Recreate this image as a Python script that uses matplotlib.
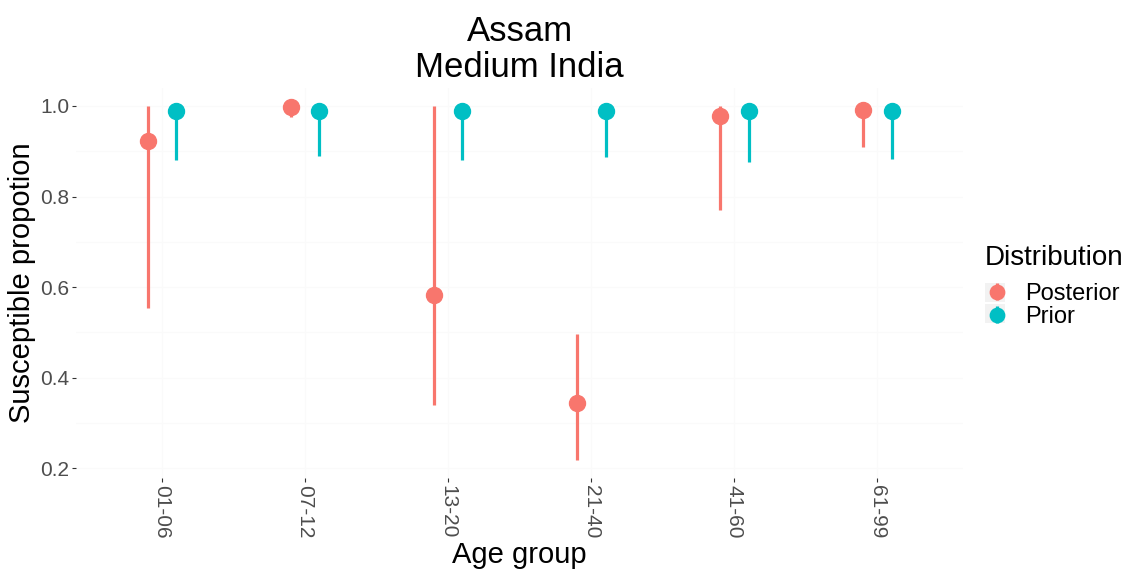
import matplotlib.pyplot as plt
import matplotlib.transforms as mtrans
import numpy as np
from matplotlib.patches import Rectangle
from matplotlib.container import ErrorbarContainer
from matplotlib.legend_handler import HandlerErrorbar

plt.rcParams['font.family'] = ['Liberation Sans', 'DejaVu Sans']

age_groups = ["01-06", "07-12", "13-20", "21-40", "41-60", "61-99"]

# posterior: median and 95% interval
post_mid = [0.923, 0.998, 0.582, 0.344, 0.978, 0.991]
post_lo = [0.555, 0.976, 0.341, 0.218, 0.771, 0.910]
post_hi = [1.000, 1.000, 1.000, 0.496, 1.000, 1.000]

# prior
prior_mid = [0.989, 0.989, 0.989, 0.989, 0.989, 0.989]
prior_lo = [0.881, 0.890, 0.881, 0.888, 0.877, 0.883]
prior_hi = [0.999, 0.999, 0.999, 0.999, 0.999, 0.999]

red = "#F8766D"
teal = "#00BFC4"

fig = plt.figure(figsize=(11.36, 5.69), dpi=100)
ax = fig.add_axes([0.067, 0.160, 0.781, 0.685])

x = np.arange(len(age_groups))
dodge = 0.1

for xs, mid, lo, hi, col, name in [
    (x - dodge, post_mid, post_lo, post_hi, red, "Posterior"),
    (x + dodge, prior_mid, prior_lo, prior_hi, teal, "Prior"),
]:
    mid = np.array(mid)
    err = [mid - np.array(lo), np.array(hi) - mid]
    ax.errorbar(xs, mid, yerr=err, fmt='o', color=col, ms=11.5,
                elinewidth=2.3, capsize=0, label=name, zorder=3)

ax.set_xlim(-0.6, len(age_groups) - 0.4)
ax.set_ylim(0.179, 1.039)
ax.set_xticks(x)
ax.set_xticklabels(age_groups, rotation=-90, fontsize=15, color="#4D4D4D")
shift = mtrans.ScaledTranslation(-5 / 100, 0, fig.dpi_scale_trans)
for lab in ax.get_xticklabels():
    lab.set_transform(lab.get_transform() + shift)
ax.set_yticks([0.2, 0.4, 0.6, 0.8, 1.0])
ax.set_yticklabels(["0.2", "0.4", "0.6", "0.8", "1.0"], fontsize=15, color="#4D4D4D")
ax.set_yticks([0.3, 0.5, 0.7, 0.9], minor=True)
ax.tick_params(axis='both', which='major', length=3, width=0.8, color="#333333", pad=2)
ax.tick_params(axis='y', which='minor', length=0)
ax.grid(True, which='both', color="#FAFAFA", linewidth=0.8, zorder=0)
for s in ax.spines.values():
    s.set_visible(False)

ax.set_xlabel("Age group", fontsize=21, labelpad=2)
ax.set_ylabel("Susceptible propotion", fontsize=21, labelpad=3)
ax.set_title("Assam\nMedium India", fontsize=25, pad=8, linespacing=1.1)

# legend key backgrounds
for yk, hk in [(0.469, 0.033), (0.432, 0.033)]:
    fig.patches.append(Rectangle((0.867, yk), 0.0176, hk, transform=fig.transFigure,
                                 facecolor="#F2F2F2", edgecolor="none", zorder=0))

fig.text(0.867, 0.534, "Distribution", fontsize=20, ha='left', va='baseline')
leg = fig.legend(loc='upper left', bbox_to_anchor=(0.867, 0.503), frameon=False,
                 fontsize=17, handlelength=1.0, handletextpad=0.7, labelspacing=0.05,
                 borderpad=0, borderaxespad=0, markerscale=0.9,
                 handler_map={ErrorbarContainer: HandlerErrorbar(yerr_size=0.35)})

fig.savefig("out.png", dpi=100)
